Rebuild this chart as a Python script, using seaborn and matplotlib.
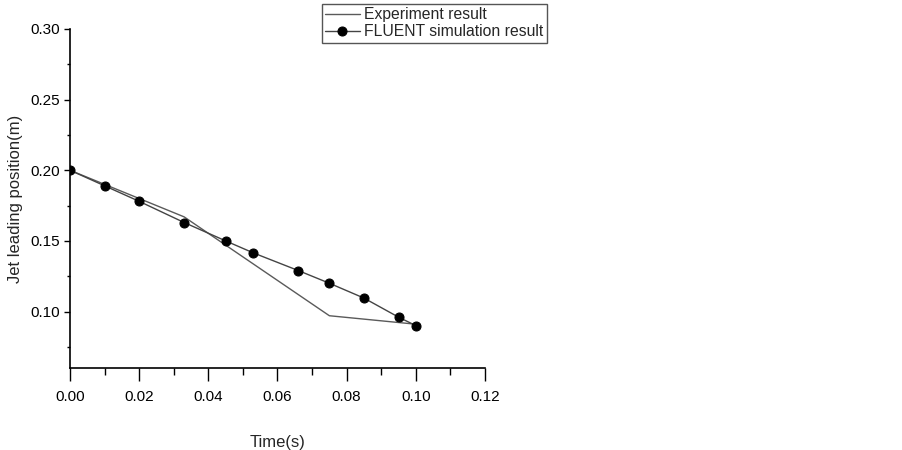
import matplotlib
matplotlib.use("Agg")
import matplotlib.pyplot as plt
import seaborn as sns
import pandas as pd
from matplotlib.ticker import MultipleLocator

exp_time = [0.0, 0.033, 0.075, 0.10]
exp_pos = [0.200, 0.167, 0.097, 0.091]
sim_time = [0.0, 0.01, 0.02, 0.033, 0.045, 0.053, 0.066, 0.075, 0.085, 0.095, 0.10]
sim_pos = [0.200, 0.189, 0.178, 0.163, 0.150, 0.1415, 0.129, 0.120, 0.1095, 0.096, 0.090]
x_ticks = [0.00, 0.02, 0.04, 0.06, 0.08, 0.10, 0.12]
x_labels = ["0.00", "0.02", "0.04", "0.06", "0.08", "0.10", "0.12"]
y_ticks = [0.10, 0.15, 0.20, 0.25, 0.30]
y_labels = ["0.10", "0.15", "0.20", "0.25", "0.30"]

sns.set_theme(style="ticks")
plt.rcParams['font.family'] = ['Liberation Sans', 'DejaVu Sans']

fig = plt.figure(figsize=(9.03, 4.5), dpi=100)
ax = fig.add_axes([70/903, 1-368/450, (485-70)/903, (368-29)/450])

df_exp = pd.DataFrame({"t": exp_time, "p": exp_pos})
df_sim = pd.DataFrame({"t": sim_time, "p": sim_pos})

sns.lineplot(data=df_exp, x="t", y="p", ax=ax, color="#5a5a5a", linewidth=1.0,
             label="Experiment result", sort=False)
sns.lineplot(data=df_sim, x="t", y="p", ax=ax, color="#444444", linewidth=1.0,
             marker="o", markersize=6.5, markerfacecolor="black", markeredgecolor="black",
             label="FLUENT simulation result", sort=False)

ax.set_xlim(0, 0.12)
ax.set_ylim(0.06, 0.30)
ax.xaxis.set_minor_locator(MultipleLocator(0.01))
ax.yaxis.set_minor_locator(MultipleLocator(0.025))
ax.set_xticks(x_ticks)
ax.set_xticklabels(x_labels)
ax.set_yticks(y_ticks)
ax.set_yticklabels(y_labels)
ax.tick_params(axis="x", which="major", direction="out", length=9.4, width=1,
               labelsize=11, colors="black", pad=6.5)
ax.tick_params(axis="x", which="minor", direction="out", length=5, width=1, colors="black")
ax.tick_params(axis="y", which="major", direction="out", length=4.3, width=1,
               labelsize=11, colors="black", pad=3)
ax.tick_params(axis="y", which="minor", direction="out", length=2.2, width=1, colors="black")
for s in ["top", "right"]:
    ax.spines[s].set_visible(False)
for s in ["left", "bottom"]:
    ax.spines[s].set_color("black")
    ax.spines[s].set_linewidth(1.2)

ax.set_xlabel("Time(s)", fontsize=12, labelpad=22)
ax.set_ylabel("Jet leading position(m)", fontsize=12, labelpad=5)

leg = ax.legend(loc="upper left", bbox_to_anchor=(322/903, 1-4/450),
                bbox_transform=fig.transFigure, fontsize=11.3, frameon=True,
                fancybox=False, edgecolor="#555555", framealpha=1,
                handlelength=2.2, borderpad=0.2, labelspacing=0.15,
                handletextpad=0.3, borderaxespad=0)
leg.get_frame().set_linewidth(1.0)

fig.savefig("out.png", dpi=100)
